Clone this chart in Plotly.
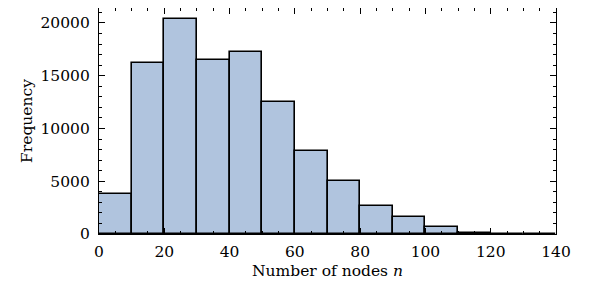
import plotly.graph_objects as go

bin_left = [0, 10, 20, 30, 40, 50, 60, 70, 80, 90, 100, 110, 120, 130]
counts = [3790, 16240, 20420, 16490, 17230, 12510, 7880, 4990, 2660, 1640, 640, 130, 10, 0]
bin_width = 10

x_ticks = [0, 20, 40, 60, 80, 100, 120, 140]
y_ticks = [0, 5000, 10000, 15000, 20000]

fig = go.Figure(go.Bar(
    x=[b + bin_width / 2 for b in bin_left],
    y=counts,
    width=bin_width,
    marker=dict(color="#B0C4DE", line=dict(color="black", width=1.6)),
))

font = dict(family="DejaVu Serif", size=15.5, color="black")
# page body has an 8px margin, so the figure is 8px smaller than the window
fig.update_layout(
    width=581, height=273,
    margin=dict(l=91, r=33, t=0, b=47, autoexpand=False),
    plot_bgcolor="white", paper_bgcolor="white",
    font=font, showlegend=False, bargap=0,
)
fig.update_xaxes(
    range=[0, 140], tickvals=x_ticks, ticktext=[str(v) for v in x_ticks],
    ticks="inside", ticklen=6, tickwidth=1, tickcolor="black",
    showline=True, linecolor="black", linewidth=1.2, mirror="allticks",
    showgrid=False, zeroline=False, automargin=False,
    ticklabelstandoff=3,
    minor=dict(ticks="inside", dtick=5, tick0=0, ticklen=3, tickcolor="black", showgrid=False),
    title=dict(text="Number of nodes <i>n</i>", standoff=5, font=font),
)
fig.update_yaxes(
    range=[0, 21420], tickvals=y_ticks, ticktext=[str(v) for v in y_ticks],
    ticks="inside", ticklen=6, tickwidth=1, tickcolor="black",
    showline=True, linecolor="black", linewidth=1.2, mirror="allticks",
    showgrid=False, zeroline=False, automargin=False,
    ticklabelstandoff=5,
    minor=dict(ticks="inside", dtick=1000, tick0=0, ticklen=3, tickcolor="black", showgrid=False),
    title=dict(text="Frequency", standoff=4, font=font),
)
fig.write_html("out.html")
